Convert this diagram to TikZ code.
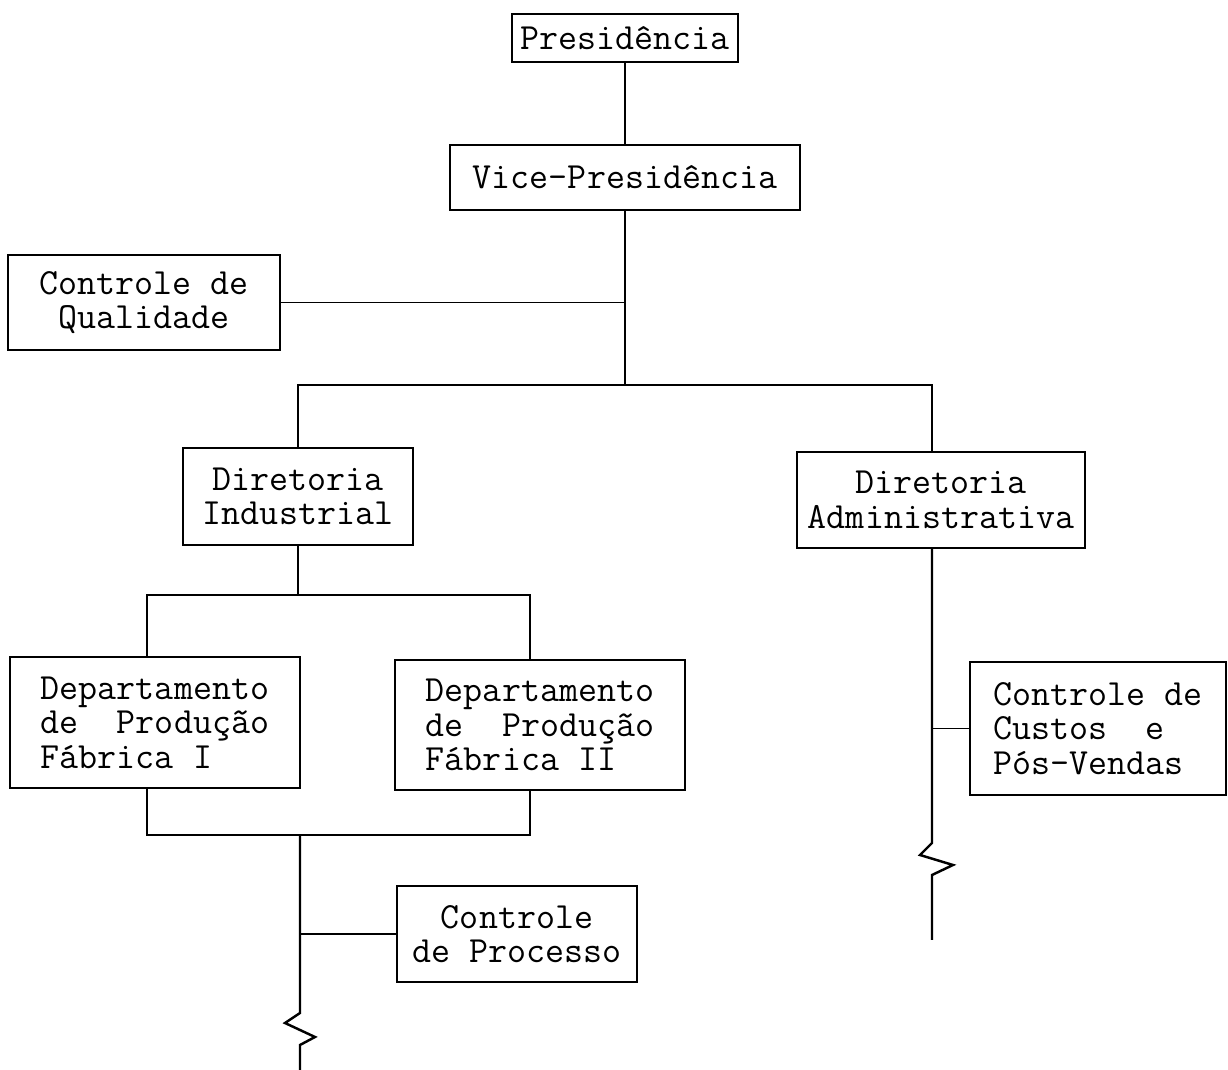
\documentclass[tikz,border=0pt]{standalone}
\usepackage{fontspec}
\setmonofont{Latin Modern Mono}
\begin{document}
\begin{tikzpicture}[x=0.02cm,y=-0.02cm,
  every node/.style={font=\ttfamily\fontsize{21}{19.6}\selectfont},
  unit/.style n args={2}{draw, line width=1pt, inner sep=0pt,
    minimum width=#1*0.02cm, minimum height=#2*0.02cm},
  link/.style={line width=1pt, line join=miter},
  breakline/.style={line width=1.4pt, line join=miter}]
\useasboundingbox (0,0) rectangle (1228,1070);

% boxes
\node[unit={226}{48}] (pres) at (625,38) {Presidência};
\node[unit={350}{65}] (vice) at (625,177.5) {Vice-Presidência};
\node[unit={272}{95}, align=center] (qual) at (144,302.5) {Controle de\\Qualidade};
\node[unit={230}{97}, align=center] (dind) at (298,496.5) {Diretoria\\Industrial};
\node[unit={288}{96}, align=center] (dadm) at (941,500) {Diretoria\\Administrativa};
\node[unit={290}{131}, align=left] (dep1) at (155,722.5) {Departamento\\de\ \ Produção\\Fábrica I};
\node[unit={290}{130}, align=left] (dep2) at (540,725) {Departamento\\de\ \ Produção\\Fábrica II};
\node[unit={256}{133}, align=left] (cust) at (1098,728.5) {Controle de\\Custos\ \ e\\Pós-Vendas};
\node[unit={240}{96}, align=center] (proc) at (517,934) {Controle\\de Processo};

% junction points
\coordinate (fork) at (625,385);
\coordinate (radm) at (932,385);
\coordinate (spl) at (298,595);
\coordinate (d1t) at (147,595);
\coordinate (d2t) at (530,595);
\coordinate (d1b) at (147,835);
\coordinate (d2b) at (530,835);
\coordinate (jn) at (300,835);
\coordinate (endL) at (300,1070);
\coordinate (endR) at (932,940);

% connectors
\draw[link] (pres) -- (vice);
\draw[link] (vice.south) -- (fork);
\draw[link] (qual.east) -- (qual.east -| fork);
\draw[link] (dind.north) |- (radm) -- (radm |- dadm.north);
\draw[link] (dind.south) -- (spl);
\draw[link] (d1t |- dep1.north) -- (d1t) -- (d2t) -- (d2t |- dep2.north);
\draw[link] (d1b |- dep1.south) -- (d1b) -- (d2b) -- (d2b |- dep2.south);
\draw[link] (jn |- proc.west) -- (proc.west);
\draw[link] (radm |- cust.west) -- (cust.west);

% trunks with break marks
\draw[breakline] (jn) -- (300,1013) -- (285,1023) -- (315,1037) -- (300,1045) -- (endL);
\draw[breakline] (radm |- dadm.south) -- (932,843) -- (920,855) -- (953,865) -- (932,875) -- (endR);
\end{tikzpicture}
\end{document}
